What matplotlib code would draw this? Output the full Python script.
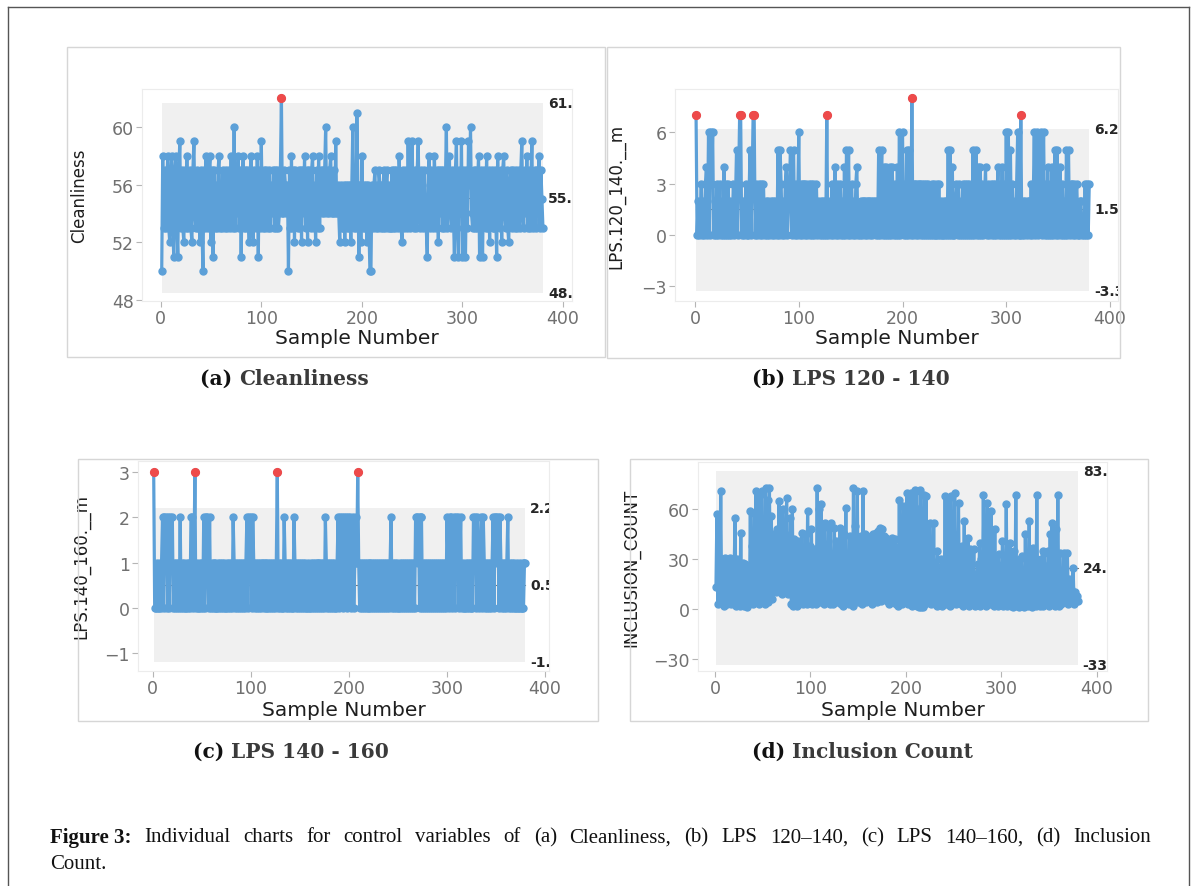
import numpy as np
import matplotlib.pyplot as plt
from matplotlib.lines import Line2D
from matplotlib.patches import Rectangle

# ---------------- data ----------------
cleanliness = [
    50, 58, 53, 57, 53, 56, 58, 53, 52, 57,
    58, 53, 51, 57, 58, 53, 51, 57, 59, 53,
    57, 53, 52, 57, 53, 58, 53, 56, 57, 53,
    52, 57, 59, 54, 53, 57, 53, 56, 52, 57,
    53, 50, 57, 53, 58, 54, 53, 57, 58, 52,
    57, 51, 57, 53, 56, 53, 57, 58, 53, 56,
    53, 57, 54, 53, 57, 53, 56, 57, 53, 58,
    54, 53, 60, 53, 57, 54, 58, 53, 57, 51,
    56, 58, 53, 57, 53, 57, 54, 52, 57, 58,
    53, 52, 57, 54, 53, 58, 51, 57, 53, 59,
    54, 53, 57, 53, 57, 54, 53, 57, 53, 56,
    54, 57, 53, 57, 53, 57, 53, 54, 57, 62,
    54, 54, 57, 56, 54, 56, 50, 57, 53, 58,
    53, 57, 52, 57, 54, 53, 57, 53, 57, 52,
    57, 54, 58, 53, 57, 52, 57, 54, 53, 57,
    58, 53, 56, 52, 57, 53, 58, 53, 57, 54,
    57, 54, 57, 60, 54, 57, 54, 57, 58, 54,
    54, 57, 54, 59, 54, 56, 54, 52, 56, 53,
    53, 56, 52, 56, 53, 56, 53, 56, 52, 56,
    60, 53, 56, 53, 61, 56, 51, 56, 52, 58,
    53, 56, 53, 56, 52, 56, 53, 50, 50, 56,
    53, 56, 57, 53, 56, 53, 57, 56, 53, 56,
    53, 57, 53, 56, 57, 53, 56, 53, 53, 57,
    53, 57, 53, 57, 56, 53, 58, 56, 53, 52,
    57, 53, 56, 57, 53, 59, 54, 53, 57, 59,
    54, 53, 57, 53, 57, 59, 54, 53, 57, 56,
    53, 57, 54, 53, 51, 57, 58, 53, 57, 54,
    53, 58, 56, 53, 57, 52, 57, 54, 57, 53,
    57, 53, 56, 60, 53, 57, 58, 54, 53, 57,
    54, 51, 57, 59, 53, 51, 57, 54, 59, 51,
    57, 54, 51, 57, 53, 59, 56, 60, 54, 53,
    57, 53, 57, 53, 56, 58, 51, 57, 53, 51,
    57, 54, 53, 58, 53, 57, 52, 56, 57, 53,
    53, 57, 54, 51, 58, 54, 53, 57, 52, 57,
    58, 54, 53, 57, 53, 52, 56, 57, 53, 57,
    54, 53, 57, 53, 56, 57, 53, 57, 59, 54,
    53, 57, 54, 58, 53, 57, 53, 56, 59, 53,
    56, 57, 53, 57, 54, 58, 53, 57, 55, 53,
]

lps_120_140 = [
    7, 0, 2, 0, 1, 3, 0, 2, 0, 3, 4, 0, 6, 0, 6, 3, 6, 0, 2, 0,
    3, 0, 1, 3, 0, 2, 0, 4, 0, 3, 0, 3, 0, 2, 0, 1, 3, 0, 2, 5,
    0, 3, 7, 7, 0, 2, 0, 1, 3, 0, 0, 2, 5, 0, 3, 7, 7, 0, 3, 0,
    2, 3, 0, 3, 0, 3, 0, 2, 0, 2, 0, 1, 2, 0, 2, 0, 2, 1, 0, 5,
    0, 5, 3, 0, 2, 0, 3, 4, 0, 2, 3, 5, 0, 3, 5, 0, 3, 0, 2, 6,
    0, 3, 0, 3, 3, 0, 3, 0, 2, 3, 0, 3, 0, 3, 0, 2, 3, 0, 2, 0,
    2, 0, 2, 0, 2, 0, 7, 0, 1, 2, 0, 3, 0, 2, 4, 0, 3, 0, 2, 3,
    0, 2, 0, 4, 0, 5, 0, 5, 0, 2, 3, 0, 2, 0, 3, 4, 0, 1, 0, 2,
    0, 2, 2, 0, 2, 0, 2, 2, 0, 2, 0, 2, 2, 0, 2, 0, 5, 0, 3, 5,
    0, 4, 0, 4, 0, 3, 0, 4, 0, 4, 2, 0, 3, 0, 4, 0, 6, 0, 2, 6,
    0, 3, 0, 5, 0, 5, 3, 0, 8, 0, 3, 3, 0, 3, 0, 3, 3, 0, 3, 0,
    3, 0, 3, 0, 3, 0, 0, 3, 0, 3, 0, 0, 3, 0, 3, 0, 2, 0, 0, 2,
    0, 2, 0, 5, 0, 5, 0, 4, 0, 0, 2, 3, 0, 3, 0, 2, 0, 3, 0, 3,
    0, 3, 0, 3, 0, 2, 0, 5, 0, 3, 5, 0, 4, 0, 4, 0, 3, 0, 2, 4,
    0, 3, 0, 2, 3, 0, 3, 0, 3, 0, 2, 4, 0, 3, 0, 4, 0, 3, 0, 6,
    0, 6, 0, 5, 0, 3, 0, 2, 0, 3, 6, 0, 0, 7, 0, 2, 0, 2, 1, 0,
    2, 2, 0, 3, 0, 2, 6, 0, 3, 6, 0, 4, 6, 0, 3, 6, 0, 3, 0, 4,
    0, 3, 0, 4, 0, 3, 5, 0, 5, 0, 3, 4, 0, 3, 0, 2, 0, 5, 0, 5,
    0, 3, 3, 0, 3, 0, 2, 3, 0, 0, 2, 2, 0, 1, 0, 3, 0, 3, 0, 3,
]

lps_140_160 = [
    3, 0, 0, 1, 0, 0, 1, 0, 1, 2, 0, 2, 1, 2, 0, 2, 0, 2, 1, 2,
    0, 1, 0, 1, 0, 1, 0, 2, 0, 1, 0, 1, 0, 0, 1, 0, 1, 0, 2, 2,
    0, 1, 3, 0, 1, 0, 0, 1, 0, 1, 0, 2, 0, 2, 2, 1, 0, 2, 0, 1,
    0, 1, 0, 1, 0, 0, 1, 0, 1, 0, 1, 0, 1, 0, 0, 1, 0, 1, 0, 1,
    0, 2, 1, 0, 1, 0, 1, 0, 1, 0, 1, 0, 1, 0, 1, 2, 0, 2, 1, 2,
    0, 2, 1, 0, 1, 0, 1, 0, 1, 0, 1, 1, 0, 1, 0, 1, 0, 1, 0, 1,
    0, 1, 0, 1, 0, 1, 3, 0, 1, 0, 1, 0, 0, 2, 1, 0, 1, 0, 1, 0,
    1, 0, 0, 2, 1, 0, 1, 0, 1, 0, 1, 0, 1, 0, 1, 0, 0, 1, 0, 0,
    1, 0, 1, 0, 1, 0, 1, 0, 1, 1, 0, 1, 0, 1, 0, 2, 1, 0, 1, 0,
    1, 0, 1, 0, 1, 0, 0, 1, 2, 0, 2, 1, 2, 0, 2, 1, 2, 0, 2, 1,
    2, 0, 1, 2, 0, 1, 2, 1, 3, 1, 0, 1, 0, 1, 0, 1, 0, 1, 0, 1,
    0, 1, 0, 1, 0, 1, 0, 1, 0, 1, 0, 1, 0, 1, 0, 1, 0, 1, 0, 1,
    0, 1, 2, 0, 1, 0, 1, 0, 1, 0, 0, 1, 0, 1, 0, 1, 0, 1, 0, 1,
    0, 1, 0, 1, 0, 1, 0, 2, 2, 1, 2, 0, 2, 2, 0, 1, 0, 1, 0, 1,
    0, 1, 0, 1, 0, 1, 0, 1, 0, 1, 0, 1, 0, 1, 0, 1, 0, 1, 0, 2,
    1, 0, 2, 2, 0, 1, 2, 0, 2, 1, 2, 0, 1, 2, 0, 1, 0, 0, 1, 0,
    1, 0, 1, 0, 1, 0, 2, 1, 2, 0, 2, 1, 0, 1, 2, 0, 2, 1, 0, 1,
    0, 1, 0, 1, 0, 1, 2, 0, 2, 2, 1, 2, 0, 2, 1, 0, 1, 0, 1, 0,
    1, 2, 0, 1, 0, 1, 0, 1, 0, 0, 1, 0, 0, 1, 0, 0, 1, 0, 1, 1,
]

inclusion_count = [
    13, 57, 3, 31, 4, 71, 5, 30, 2, 31, 4, 28, 3, 25, 6, 31, 3, 28, 5, 22,
    55, 2, 30, 4, 24, 2, 46, 3, 28, 2, 27, 4, 26, 1, 22, 3, 59, 4, 38, 3,
    58, 5, 71, 6, 70, 3, 69, 4, 71, 6, 45, 3, 73, 5, 66, 4, 73, 8, 56, 6,
    45, 12, 35, 10, 48, 11, 65, 10, 50, 9, 60, 14, 45, 10, 67, 9, 40, 12, 55, 3,
    60, 2, 42, 5, 33, 2, 41, 3, 30, 6, 46, 3, 29, 4, 45, 3, 59, 5, 38, 4,
    48, 3, 30, 6, 36, 3, 73, 5, 60, 4, 63, 7, 40, 3, 52, 4, 28, 6, 49, 3,
    52, 4, 33, 3, 49, 5, 41, 4, 30, 6, 49, 3, 37, 2, 45, 5, 61, 4, 29, 3,
    44, 4, 31, 2, 73, 6, 50, 5, 71, 4, 38, 6, 44, 3, 71, 5, 45, 4, 30, 7,
    42, 5, 44, 3, 45, 6, 44, 5, 46, 4, 47, 7, 49, 5, 48, 6, 44, 8, 43, 5,
    40, 3, 35, 4, 43, 6, 38, 4, 42, 3, 36, 2, 66, 4, 41, 3, 62, 5, 33, 4,
    70, 3, 38, 5, 70, 2, 68, 4, 72, 3, 71, 2, 60, 1, 72, 1, 40, 1, 69, 3,
    68, 5, 40, 4, 52, 3, 29, 4, 52, 3, 26, 2, 35, 4, 18, 3, 30, 2, 24, 5,
    68, 3, 33, 4, 67, 2, 68, 3, 45, 4, 70, 3, 31, 4, 64, 5, 20, 3, 38, 2,
    53, 3, 29, 4, 43, 2, 36, 3, 22, 4, 36, 2, 18, 4, 27, 3, 40, 2, 30, 4,
    69, 3, 25, 2, 64, 4, 36, 3, 59, 5, 30, 2, 48, 4, 27, 2, 33, 5, 21, 3,
    41, 2, 18, 3, 63, 2, 29, 4, 40, 2, 24, 1, 35, 2, 69, 3, 28, 1, 30, 2,
    32, 3, 22, 1, 45, 3, 31, 2, 53, 4, 26, 1, 37, 3, 30, 2, 69, 4, 23, 2,
    30, 3, 35, 2, 34, 4, 26, 3, 35, 2, 45, 3, 52, 4, 30, 2, 48, 3, 69, 2,
    34, 3, 20, 4, 34, 5, 33, 7, 34, 3, 18, 4, 12, 6, 25, 3, 10, 5, 8, 5,
]

# control limits (UCL, CL, LCL)
limits_clean = (61.7, 55.1, 48.5)
limits_120 = (6.2, 1.5, -3.3)
limits_140 = (2.2, 0.5, -1.2)
limits_incl = (83.0, 24.6, -33.8)

ylabels = ["Cleanliness", "LPS.120_140.__m", "LPS.140_160.__m", "INCLUSION_COUNT"]
yticks = [[48, 52, 56, 60], [-3, 0, 3, 6], [-1, 0, 1, 2, 3], [-30, 0, 30, 60]]
xticks = [0, 100, 200, 300, 400]
caption_tags = ["(a)", "(b)", "(c)", "(d)"]
caption_names = ["Cleanliness", "LPS 120 - 140", "LPS 140 - 160", "Inclusion Count"]
figure_caption = [("Figure 3:", "bold"), ("Individual", "normal"),
                  ("charts", "normal"), ("for", "normal"), ("control", "normal"),
                  ("variables", "normal"), ("of", "normal"), ("(a)", "normal"),
                  ("Cleanliness,", "normal"), ("(b)", "normal"), ("LPS", "normal"),
                  ("120\u2013140,", "normal"), ("(c)", "normal"), ("LPS", "normal"),
                  ("140\u2013160,", "normal"), ("(d)", "normal"), ("Inclusion", "normal")]
figure_caption_end = "Count."

# ---------------- layout (pixels) ----------------
W, H = 1197, 887
BLUE = "#5CA0D8"
RED = "#EE4A4A"

fig = plt.figure(figsize=(W / 100, H / 100), dpi=100)


def fx(px):
    return px / W


def fy(py):
    return 1 - py / H


# outer page border
for xs, ys in [((8, 8), (8, 890)), ((8, 1189), (8, 8)), ((1189, 1189), (8, 890))]:
    fig.add_artist(Line2D([fx(v) for v in xs], [fy(v) for v in ys],
                          color="#555555", lw=1.0))

panels = [
    dict(data=cleanliness, lim=limits_clean, ax=(142, 90, 572, 302),
         frame=(67, 48, 605, 358), xlim=(-18.6, 408.9), ylim=(47.92, 62.64),
         ylab_x=88, xlab_y=338, cap=(200, 379)),
    dict(data=lps_120_140, lim=limits_120, ax=(675, 90, 1118, 302),
         frame=(607, 48, 1120, 359), xlim=(-19.3, 407.7), ylim=(-3.86, 8.54),
         ylab_x=625, xlab_y=338, cap=(752, 379)),
    dict(data=lps_140_160, lim=limits_140, ax=(138, 462, 549, 672),
         frame=(78, 460, 598, 722), xlim=(-15, 404), ylim=(-1.39, 3.245),
         ylab_x=90, xlab_y=711, cap=(193, 752)),
    dict(data=inclusion_count, lim=limits_incl, ax=(698, 463, 1107, 672),
         frame=(630, 460, 1148, 722), xlim=(-17.8, 410.5), ylim=(-37.3, 88.6),
         ylab_x=640, xlab_y=711, cap=(752, 752)),
]

for i, p in enumerate(panels):
    # light frame around each sub-figure
    x0, y0, x1, y1 = p["frame"]
    fig.add_artist(Rectangle((fx(x0), fy(y1)), fx(x1 - x0), (y1 - y0) / H,
                             fill=False, ec="#d6d6d6", lw=1.0))

    l, t, r, b = p["ax"]
    ax = fig.add_axes([fx(l), fy(b), fx(r - l), (b - t) / H])
    vals = np.array(p["data"], dtype=float)
    x = np.arange(1, len(vals) + 1)
    ucl, cl, lcl = p["lim"]

    ax.fill_between([1, len(vals)], [lcl, lcl], [ucl, ucl],
                    color="#f0f0f0", lw=0, zorder=0)
    ax.plot([1, len(vals)], [cl, cl], color="#7a7a7a", lw=0.8, zorder=1)
    ax.plot(x, vals, color=BLUE, lw=2.3, marker="o", ms=5.0,
            mec=BLUE, mfc=BLUE, zorder=2)
    out = vals > ucl
    ax.plot(x[out], vals[out], "o", color=RED, ms=5.6, zorder=3)

    for v in (ucl, cl, lcl):
        ax.text(385, v, f"{v:.1f}", ha="left", va="center", fontsize=10,
                fontweight="bold", color="#262626", clip_on=True)

    ax.set_xlim(*p["xlim"])
    ax.set_ylim(*p["ylim"])
    ax.set_xticks(xticks)
    ax.set_yticks(yticks[i])
    for s in ax.spines.values():
        s.set_color("#ececec")
        s.set_linewidth(0.8)
    ax.tick_params(color="#b5b5b5", length=4, width=0.8, labelcolor="#707070",
                   labelsize=12.5, pad=2)

    ax.set_ylabel(ylabels[i], fontsize=12, color="#1e1e1e")
    ax.yaxis.set_label_coords((p["ylab_x"] - l) / (r - l), 0.5)
    ax.set_xlabel("Sample Number", fontsize=14.5, color="#1e1e1e")
    ax.xaxis.label.set_va("center")
    ax.xaxis.set_label_coords(0.5, -(p["xlab_y"] - b) / (b - t))

    # sub-figure caption: bold tag, then name
    cx, cy = p["cap"]
    tag = fig.text(fx(cx), fy(cy), caption_tags[i] + " ", ha="left", va="center",
                   family="DejaVu Serif", fontweight="bold", fontsize=14.5,
                   color="#111111")
    ax.annotate(caption_names[i], xy=(1, 0.5), xycoords=tag, ha="left",
                va="center", family="DejaVu Serif", fontweight="bold",
                fontsize=14.5, color="#3a3a3a", annotation_clip=False)

# figure caption, first line justified between the margins
serif = "Liberation Serif"
renderer = fig.canvas.get_renderer()
words = [fig.text(0, fy(838), w, ha="left", va="center", family=serif,
                  fontweight=wt, fontsize=15, color="#111111")
         for w, wt in figure_caption]
widths = [t.get_window_extent(renderer).width for t in words]
gap = (1151 - 50 - sum(widths)) / (len(words) - 1)
pos = 50
for t, wd in zip(words, widths):
    t.set_x(fx(pos))
    pos += wd + gap
fig.text(fx(50), fy(865), figure_caption_end, ha="left", va="center",
         family=serif, fontsize=15, color="#111111")

fig.savefig("out.png", dpi=100)
